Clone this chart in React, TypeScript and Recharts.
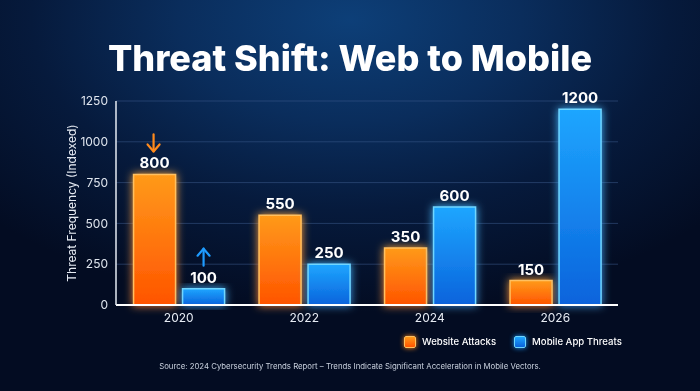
import React from 'react';
import { BarChart, Bar, XAxis, YAxis, CartesianGrid, LabelList } from 'recharts';

const years = ['2020', '2022', '2024', '2026'];
const websiteAttacks = [800, 550, 350, 150];
const mobileThreats = [100, 250, 600, 1200];
const yTicks = [0, 250, 500, 750, 1000, 1250];
const seriesNames = ['Website Attacks', 'Mobile App Threats'];
const title = 'Threat Shift: Web to Mobile';
const yLabel = 'Threat Frequency (Indexed)';
const source = 'Source: 2024 Cybersecurity Trends Report – Trends Indicate Significant Acceleration in Mobile Vectors.';

const data = years.map((y, i) => ({ year: y, web: websiteAttacks[i], mobile: mobileThreats[i] }));

const FONT = 'Inter, "Noto Sans", sans-serif';

const makeLabel = (kind: 'web' | 'mobile') => (props: any) => {
  const { x, y, width, value, index } = props;
  const cx = x + width / 2;
  const color = kind === 'web' ? '#ff8a1c' : '#1e9bff';
  return (
    <g>
      <text x={cx} y={y - 6} textAnchor="middle" fill="#ffffff" fontSize={15} fontWeight={700} fontFamily={FONT}>
        {value}
      </text>
      {index === 0 && kind === 'web' && (
        <g stroke={color} strokeWidth={2.2} fill="none" strokeLinecap="round" strokeLinejoin="round">
          <line x1={cx - 1} y1={y - 40} x2={cx - 1} y2={y - 23} />
          <polyline points={`${cx - 7},${y - 30} ${cx - 1},${y - 23} ${cx + 5},${y - 30}`} />
        </g>
      )}
      {index === 0 && kind === 'mobile' && (
        <g stroke={color} strokeWidth={2.2} fill="none" strokeLinecap="round" strokeLinejoin="round">
          <line x1={cx} y1={y - 40} x2={cx} y2={y - 23} />
          <polyline points={`${cx - 6},${y - 33} ${cx},${y - 40} ${cx + 6},${y - 33}`} />
        </g>
      )}
    </g>
  );
};

export default function App() {
  return (
    <div
      style={{
        position: 'fixed',
        left: 0,
        top: 0,
        width: 700,
        height: 391,
        overflow: 'hidden',
        background:
          'radial-gradient(ellipse 70% 75% at 50% 5%, #0d3f78 0%, #0a2d5c 35%, #061a3c 65%, #030c22 100%)',
        fontFamily: FONT,
      }}
    >
      <div
        style={{
          position: 'absolute',
          left: 0,
          top: 35,
          width: 700,
          textAlign: 'center',
          color: '#ffffff',
          fontSize: 36,
          fontWeight: 800,
          letterSpacing: 0,
          lineHeight: '46px',
          fontFamily: 'Inter, sans-serif',
        }}
      >
        {title}
      </div>
      <div style={{ position: 'absolute', left: 0, top: 0 }}>
        <BarChart
          width={700}
          height={391}
          data={data}
          margin={{ top: 101, right: 82, left: 28, bottom: 56 }}
          barCategoryGap="14%"
          barGap={7}
        >
          <defs>
            <linearGradient id="gWeb" x1="0" y1="0" x2="0" y2="1">
              <stop offset="0%" stopColor="#ff9a1a" />
              <stop offset="100%" stopColor="#ff5400" />
            </linearGradient>
            <linearGradient id="gMob" x1="0" y1="0" x2="0" y2="1">
              <stop offset="0%" stopColor="#1ea6ff" />
              <stop offset="100%" stopColor="#0a63dc" />
            </linearGradient>
            <filter id="glowO" x="-30%" y="-30%" width="160%" height="160%">
              <feGaussianBlur in="SourceGraphic" stdDeviation="4" result="b" />
              <feMerge>
                <feMergeNode in="b" />
                <feMergeNode in="SourceGraphic" />
              </feMerge>
            </filter>
          </defs>
          <CartesianGrid vertical={false} stroke="#3a5a8a" strokeOpacity={0.55} strokeWidth={1} />
          <XAxis
            dataKey="year"
            tickLine={false}
            axisLine={{ stroke: '#ffffff', strokeWidth: 2 }}
            tick={{ fill: '#e6ebf3', fontSize: 12, fontFamily: FONT }}
            height={30}
          />
          <YAxis
            domain={[0, 1250]}
            ticks={yTicks}
            width={88}
            tickLine={false}
            axisLine={{ stroke: '#e6ebf3', strokeWidth: 1.5 }}
            tick={{ fill: '#dfe5ee', fontSize: 12, fontFamily: FONT }}
            label={{
              value: yLabel,
              angle: -90,
              position: 'center',
              fill: '#e6ebf3',
              fontSize: 12,
              fontFamily: FONT,
            }}
          />
          <Bar
            dataKey="web"
            name={seriesNames[0]}
            fill="url(#gWeb)"
            stroke="#ffc060"
            strokeWidth={1.5}
            filter="url(#glowO)"
            isAnimationActive={false}
          >
            <LabelList dataKey="web" content={makeLabel('web')} />
          </Bar>
          <Bar
            dataKey="mobile"
            name={seriesNames[1]}
            fill="url(#gMob)"
            stroke="#6fd6ff"
            strokeWidth={1.5}
            filter="url(#glowO)"
            isAnimationActive={false}
          >
            <LabelList dataKey="mobile" content={makeLabel('mobile')} />
          </Bar>
        </BarChart>
      </div>
      <div
        style={{
          position: 'absolute',
          left: 404,
          top: 335,
          display: 'flex',
          alignItems: 'center',
          color: '#ffffff',
          fontSize: 9.6,
          fontWeight: 500,
          fontFamily: FONT,
          lineHeight: '14px',
        }}
      >
        {seriesNames.map((n, i) => (
          <div key={n} style={{ display: 'flex', alignItems: 'center', marginRight: i === 0 ? 18 : 0 }}>
            <div
              style={{
                width: 10,
                height: 10,
                borderRadius: 2,
                marginRight: 6,
                background: i === 0 ? 'linear-gradient(#ff9a1a,#ff5400)' : 'linear-gradient(#1ea6ff,#0a63dc)',
                border: `1px solid ${i === 0 ? '#ffc060' : '#6fd6ff'}`,
                boxShadow: `0 0 5px ${i === 0 ? '#ff8a1c' : '#1e9bff'}`,
              }}
            />
            <span>{n}</span>
          </div>
        ))}
      </div>
      <div
        style={{
          position: 'absolute',
          left: 0,
          top: 361,
          width: 700,
          textAlign: 'center',
          color: '#c9d1de',
          fontSize: 7.8,
          lineHeight: '10px',
          fontFamily: FONT,
        }}
      >
        {source}
      </div>
    </div>
  );
}
